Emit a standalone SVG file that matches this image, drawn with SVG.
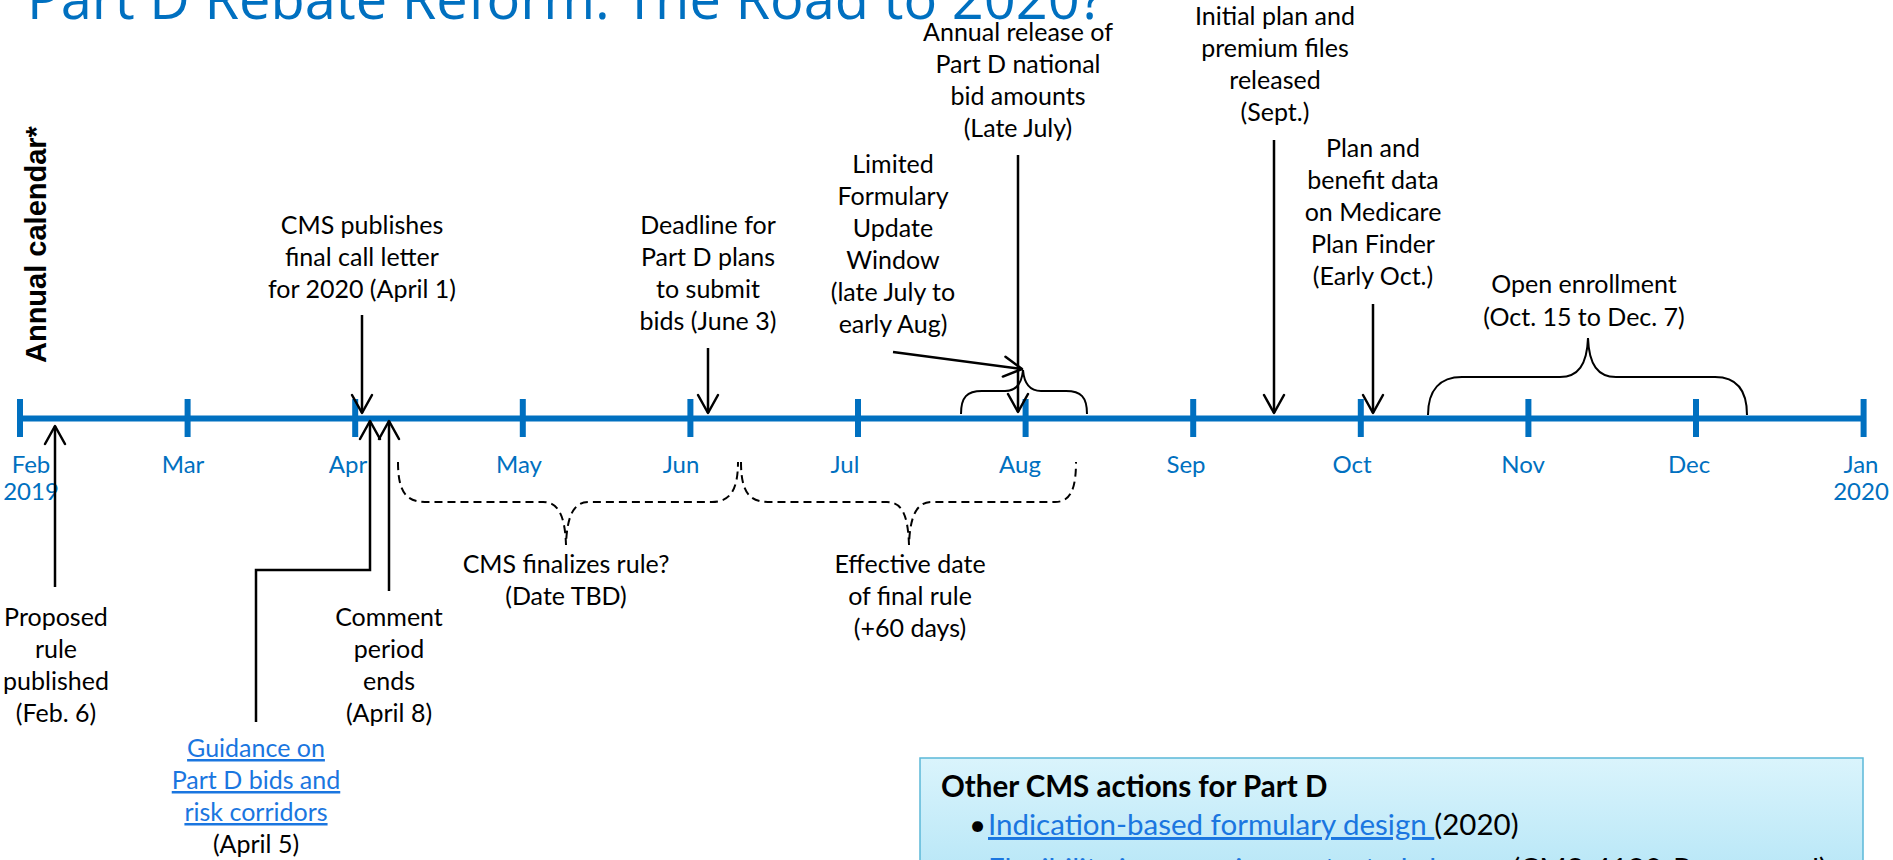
<svg xmlns="http://www.w3.org/2000/svg" width="1893" height="860" viewBox="0 0 1893 860">
<defs>
<style>
.t{font-family:Lato,"Liberation Sans",sans-serif;font-size:25px;fill:#000;text-anchor:middle}
.m{font-family:Lato,"Liberation Sans",sans-serif;font-size:24px;fill:#0070C0;text-anchor:middle}
.bx{font-family:Lato,"Liberation Sans",sans-serif;font-size:29.5px;fill:#000}
.lk{fill:#1a76e0;text-decoration:underline}
.ln{fill:none;stroke:#000;stroke-width:2.5}
.arr{marker-end:url(#ah)}
.br{fill:none;stroke:#000;stroke-width:2}
.dbr{fill:none;stroke:#000;stroke-width:2;stroke-dasharray:8 5}
.tl{stroke:#0070C0;stroke-width:6;fill:none}
</style>
<marker id="ah" markerUnits="userSpaceOnUse" viewBox="-22 -12 24 24" markerWidth="24" markerHeight="24" refX="0" refY="0" orient="auto">
<path d="M-18,-10 L0,0 L-18,10" fill="none" stroke="#000" stroke-width="2.5" stroke-linejoin="round" stroke-linecap="round"/>
</marker>
<linearGradient id="boxg" x1="0" y1="0" x2="0" y2="1">
<stop offset="0" stop-color="#DAF4FC"/><stop offset="1" stop-color="#9FDDF3"/>
</linearGradient>
</defs>
<rect width="1893" height="860" fill="#fff"/>

<g id="title">
<text x="27" y="19" font-family="'Open Sans','Noto Sans',sans-serif" font-size="56" fill="#0070C0">Part D Rebate Reform: The Road to 2020?</text>
</g>

<g id="axis-label">
<text transform="translate(46,363) rotate(-90)" font-family="'Liberation Sans',Arial,sans-serif" font-weight="bold" font-size="29" fill="#000">Annual calendar*</text>
</g>

<g id="timeline">
<path class="tl" d="M20,418.5 H1863.6"/>
<path class="tl" d="M20,399 V437 M187.6,399 V437 M355.2,399 V437 M522.8,399 V437 M690.4,399 V437 M858,399 V437 M1025.6,399 V437 M1193.2,399 V437 M1360.8,399 V437 M1528.4,399 V437 M1696,399 V437 M1863.6,399 V437"/>
<text class="m" x="31" y="473">Feb</text><text class="m" x="31" y="500">2019</text>
<text class="m" x="183" y="473">Mar</text>
<text class="m" x="348" y="473">Apr</text>
<text class="m" x="519" y="473">May</text>
<text class="m" x="681" y="473">Jun</text>
<text class="m" x="845" y="473">Jul</text>
<text class="m" x="1020" y="473">Aug</text>
<text class="m" x="1186" y="473">Sep</text>
<text class="m" x="1352" y="473">Oct</text>
<text class="m" x="1523" y="473">Nov</text>
<text class="m" x="1689" y="473">Dec</text>
<text class="m" x="1861" y="473">Jan</text><text class="m" x="1861" y="500">2020</text>
</g>

<g id="call-letter">
<text class="t" x="362" y="234">CMS publishes</text>
<text class="t" x="362" y="266">final call letter</text>
<text class="t" x="362" y="298">for 2020 (April 1)</text>
</g>
<g id="bid-deadline">
<text class="t" x="708" y="234">Deadline for</text>
<text class="t" x="708" y="266">Part D plans</text>
<text class="t" x="708" y="298">to submit</text>
<text class="t" x="708" y="330">bids (June 3)</text>
</g>
<g id="formulary-window">
<text class="t" x="893" y="173">Limited</text>
<text class="t" x="893" y="205">Formulary</text>
<text class="t" x="893" y="237">Update</text>
<text class="t" x="893" y="269">Window</text>
<text class="t" x="893" y="301">(late July to</text>
<text class="t" x="893" y="333">early Aug)</text>
</g>
<g id="national-bid">
<text class="t" x="1018" y="41">Annual release of</text>
<text class="t" x="1018" y="73">Part D national</text>
<text class="t" x="1018" y="105">bid amounts</text>
<text class="t" x="1018" y="137">(Late July)</text>
</g>
<g id="premium-files">
<text class="t" x="1275" y="25">Initial plan and</text>
<text class="t" x="1275" y="57">premium files</text>
<text class="t" x="1275" y="89">released</text>
<text class="t" x="1275" y="121">(Sept.)</text>
</g>
<g id="plan-finder">
<text class="t" x="1373" y="157">Plan and</text>
<text class="t" x="1373" y="189">benefit data</text>
<text class="t" x="1373" y="221">on Medicare</text>
<text class="t" x="1373" y="253">Plan Finder</text>
<text class="t" x="1373" y="285">(Early Oct.)</text>
</g>
<g id="open-enrollment">
<text class="t" x="1584" y="293">Open enrollment</text>
<text class="t" x="1584" y="326">(Oct. 15 to Dec. 7)</text>
</g>
<g id="proposed-rule">
<text class="t" x="56" y="626">Proposed</text>
<text class="t" x="56" y="658">rule</text>
<text class="t" x="56" y="690">published</text>
<text class="t" x="56" y="722">(Feb. 6)</text>
</g>
<g id="comment-period">
<text class="t" x="389" y="626">Comment</text>
<text class="t" x="389" y="658">period</text>
<text class="t" x="389" y="690">ends</text>
<text class="t" x="389" y="722">(April 8)</text>
</g>
<g id="guidance">
<text class="t lk" x="256" y="757">Guidance on</text>
<text class="t lk" x="256" y="789">Part D bids and</text>
<text class="t lk" x="256" y="821">risk corridors</text>
<text class="t" x="256" y="853">(April 5)</text>
</g>
<g id="final-rule">
<text class="t" x="566" y="573">CMS finalizes rule?</text>
<text class="t" x="566" y="605">(Date TBD)</text>
</g>
<g id="effective-date">
<text class="t" x="910" y="573">Effective date</text>
<text class="t" x="910" y="605">of final rule</text>
<text class="t" x="910" y="637">(+60 days)</text>
</g>

<g id="other-actions">
<rect x="920" y="758" width="943" height="200" fill="url(#boxg)" stroke="#5BB8D8" stroke-width="1.5"/>
<text class="bx" x="941" y="797" font-weight="bold">Other CMS actions for Part D</text>
<text class="bx" x="969" y="835" font-size="24">•</text>
<text class="bx" x="988" y="835" xml:space="preserve"><tspan class="lk">Indication-based formulary design </tspan><tspan>(2020)</tspan></text>
<text class="bx" x="969" y="879" font-size="24">•</text>
<text class="bx" x="988" y="879" xml:space="preserve"><tspan class="lk">Flexibility in managing protected classes </tspan><tspan>(CMS-4180-P proposed)</tspan></text>
</g>

<g id="connectors">
<path class="ln arr" d="M362,315 V413"/>
<path class="ln arr" d="M708,348 V413"/>
<path class="ln arr" d="M893,352 L1022,369"/>
<path class="ln arr" d="M1018,155 V412"/>
<path class="ln arr" d="M1274,140 V413"/>
<path class="ln arr" d="M1373,304 V413"/>
<path class="ln arr" d="M55,587 V426"/>
<path class="ln arr" d="M256,722 V570 H370 V421"/>
<path class="ln arr" d="M389,591 V421"/>
<path class="br" d="M961,414 C961,397 967,391 982,391 L1005,391 C1017,391 1022,382 1023,370 C1024,382 1029,391 1041,391 L1066,391 C1081,391 1087,397 1087,414"/>
<path class="br" d="M1428,415 C1428,390 1440,377 1462,377 L1560,377 C1578,377 1587,365 1588,338 C1589,365 1598,377 1616,377 L1715,377 C1737,377 1747,390 1747,415"/>
<path class="dbr" d="M398,462 C398,490 405,502 425,502 L543,502 C558,502 565,515 566,545 C567,515 574,502 589,502 L712,502 C730,502 738,490 738,462"/>
<path class="dbr" d="M741,462 C741,490 748,502 768,502 L887,502 C902,502 908,515 909,545 C910,515 917,502 932,502 L1055,502 C1070,502 1076,490 1076,462"/>
</g>
</svg>
